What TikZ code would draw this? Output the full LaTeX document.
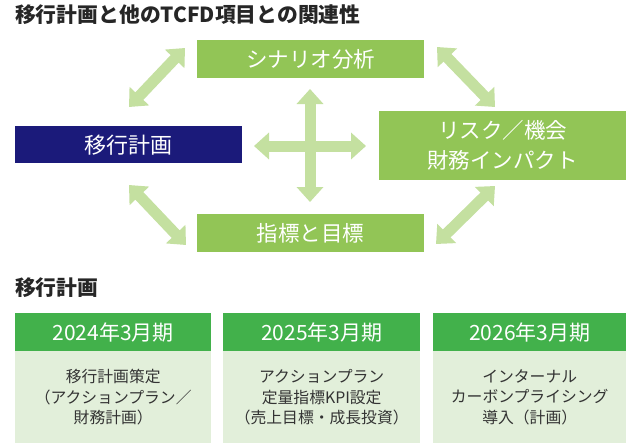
\documentclass[tikz,border=0pt]{standalone}
\usepackage{fontspec}
\setmainfont{Noto Sans CJK JP}
\usetikzlibrary{arrows.meta}
\definecolor{boxgreen}{HTML}{92C556}
\definecolor{arrowgreen}{HTML}{C4E0A0}
\definecolor{navy}{HTML}{1B1A7A}
\definecolor{headgreen}{HTML}{42B14B}
\definecolor{bodygreen}{HTML}{E2EFDA}
\definecolor{bodytext}{HTML}{333333}
\tikzset{
  topbox/.style={fill=boxgreen, text=white, inner sep=0pt, anchor=north west, align=center, font=\fontsize{21.5}{30}\selectfont},
  navybox/.style={fill=navy, text=white, inner sep=0pt, anchor=north west, font=\fontsize{22}{30}\selectfont},
  headbox/.style={fill=headgreen, text=white, inner sep=0pt, anchor=north west, font=\fontsize{21}{24}\selectfont},
  bodybox/.style={fill=bodygreen, text=bodytext, inner sep=0pt, anchor=north west, align=center, font=\fontsize{15.8}{20.5}\selectfont},
  heading/.style={inner sep=0pt, anchor=west, font=\fontsize{20.8}{24}\selectfont\bfseries, text=black!85},
  dblarrow/.style={draw=arrowgreen, line width=11pt,
    {Triangle[width=26pt,length=15pt,fill=arrowgreen]}-{Triangle[width=26pt,length=15pt,fill=arrowgreen]}}
}
\begin{document}
\begin{tikzpicture}[x=1pt,y=-1pt]
\useasboundingbox (0,0) rectangle (626,444);
\fill[white] (0,0) rectangle (626,444);

\node[heading] (title) at (15,15) {移行計画と他のTCFD項目との関連性};

\node[topbox, minimum width=227pt, minimum height=38pt] (scen) at (197,40) {シナリオ分析};
\node[navybox, minimum width=227pt, minimum height=37pt] (plan) at (15,126) {移行計画};
\node[topbox, minimum width=247pt, minimum height=69pt] (risk) at (379,111) {リスク／機会\\財務インパクト};
\node[topbox, minimum width=227pt, minimum height=38pt] (kpi) at (197,214) {指標と目標};

\coordinate (tlA) at (129,107);
\coordinate (tlB) at (185,48);
\coordinate (trA) at (437,47);
\coordinate (trB) at (495,107);
\coordinate (blA) at (129,185);
\coordinate (blB) at (186,245);
\coordinate (brA) at (495,186);
\coordinate (brB) at (436,244);
\coordinate (cxT) at (310,89);
\coordinate (cxB) at (310,202);
\coordinate (cxL) at (254,146);
\coordinate (cxR) at (366,146);

\draw[dblarrow] (tlA) -- (tlB);
\draw[dblarrow] (trA) -- (trB);
\draw[dblarrow] (blA) -- (blB);
\draw[dblarrow] (brA) -- (brB);
\draw[dblarrow] (cxT) -- (cxB);
\draw[dblarrow] (cxL) -- (cxR);

\node[heading] (sub) at (15,288) {移行計画};

\node[headbox, minimum width=196pt, minimum height=38pt] (h1) at (15,313) {2024年3月期};
\node[headbox, minimum width=197pt, minimum height=38pt] (h2) at (223,313) {2025年3月期};
\node[headbox, minimum width=193pt, minimum height=38pt] (h3) at (433,313) {2026年3月期};

\node[bodybox, minimum width=196pt, minimum height=92pt] (b1) at (15,351) {移行計画策定\\（アクションプラン／\\財務計画）};
\node[bodybox, minimum width=197pt, minimum height=92pt] (b2) at (223,351) {アクションプラン\\定量指標KPI設定\\（売上目標・成長投資）};
\node[bodybox, minimum width=193pt, minimum height=92pt] (b3) at (433,351) {インターナル\\カーボンプライシング\\導入（計画）};
\end{tikzpicture}
\end{document}
